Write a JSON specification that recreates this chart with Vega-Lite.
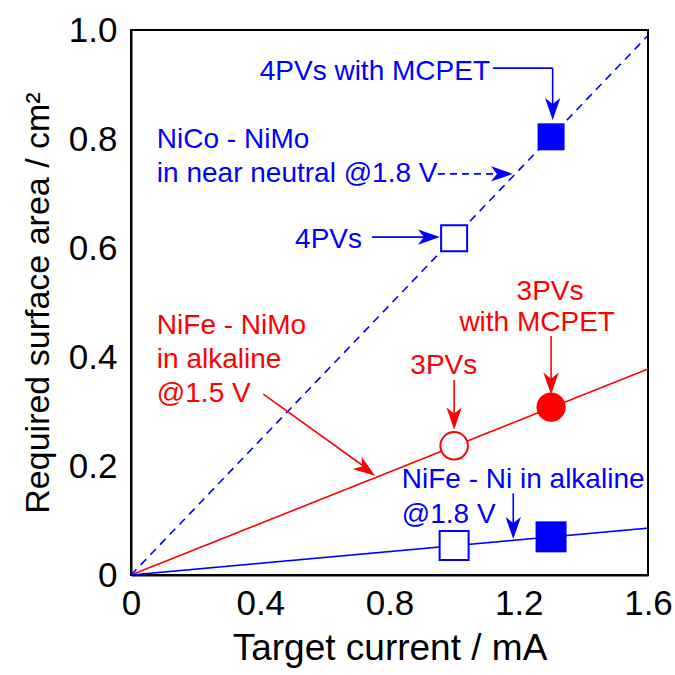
{
  "$schema": "https://vega.github.io/schema/vega-lite/v6.json",
  "width": 517,
  "height": 545,
  "autosize": "none",
  "padding": {"left": 131, "top": 30, "right": 27, "bottom": 100},
  "background": "white",
  "config": {
    "view": {"stroke": "black", "strokeWidth": 2},
    "font": "Liberation Sans",
    "axis": {
      "domainColor": "black", "domainWidth": 2,
      "labelColor": "black", "titleColor": "black",
      "grid": false, "ticks": false, "tickSize": 0,
      "labelFont": "Liberation Sans", "titleFont": "Liberation Sans",
      "labelFontSize": 35, "titleFontWeight": "normal"
    }
  },
  "resolve": {"scale": {"size": "independent"}},
  "datasets": {
    "lines": [
      {"series": "NiCo-NiMo", "x": 0, "y": 0}, {"series": "NiCo-NiMo", "x": 1.6, "y": 0.99},
      {"series": "NiFe-NiMo", "x": 0, "y": 0}, {"series": "NiFe-NiMo", "x": 1.6, "y": 0.378},
      {"series": "NiFe-Ni", "x": 0, "y": 0}, {"series": "NiFe-Ni", "x": 1.6, "y": 0.086}
    ],
    "points": [
      {"series": "NiCo-NiMo", "label": "4PVs", "x": 1.0, "y": 0.618, "filled": false},
      {"series": "NiCo-NiMo", "label": "4PVs with MCPET", "x": 1.3, "y": 0.804, "filled": true},
      {"series": "NiFe-NiMo", "label": "3PVs", "x": 1.0, "y": 0.237, "filled": false},
      {"series": "NiFe-NiMo", "label": "3PVs with MCPET", "x": 1.3, "y": 0.308, "filled": true},
      {"series": "NiFe-Ni", "label": "3PVs", "x": 1.0, "y": 0.054, "filled": false},
      {"series": "NiFe-Ni", "label": "3PVs with MCPET", "x": 1.3, "y": 0.070, "filled": true}
    ],
    "xTicks": [
      {"x": 0.1, "kind": "minor"}, {"x": 0.2, "kind": "minor"}, {"x": 0.3, "kind": "minor"},
      {"x": 0.4, "kind": "major"}, {"x": 0.5, "kind": "minor"}, {"x": 0.6, "kind": "minor"},
      {"x": 0.7, "kind": "minor"}, {"x": 0.8, "kind": "major"}, {"x": 0.9, "kind": "minor"},
      {"x": 1.0, "kind": "minor"}, {"x": 1.1, "kind": "minor"}, {"x": 1.2, "kind": "major"},
      {"x": 1.3, "kind": "minor"}, {"x": 1.4, "kind": "minor"}, {"x": 1.5, "kind": "minor"}
    ],
    "yTicks": [
      {"y": 0.1, "kind": "minor"}, {"y": 0.2, "kind": "major"}, {"y": 0.3, "kind": "minor"},
      {"y": 0.4, "kind": "major"}, {"y": 0.5, "kind": "minor"}, {"y": 0.6, "kind": "major"},
      {"y": 0.7, "kind": "minor"}, {"y": 0.8, "kind": "major"}, {"y": 0.9, "kind": "minor"}
    ],
    "arrows": [
      {"series": "NiCo-NiMo", "x": 1.12, "y": 0.93, "x2": 1.305, "y2": 0.93},
      {"series": "NiCo-NiMo", "x": 1.305, "y": 0.93, "x2": 1.305, "y2": 0.845},
      {"series": "NiCo-NiMo", "x": 0.746, "y": 0.62, "x2": 0.946, "y2": 0.62},
      {"series": "NiFe-NiMo", "x": 1.0, "y": 0.358, "x2": 1.0, "y2": 0.277},
      {"series": "NiFe-NiMo", "x": 1.3, "y": 0.4385, "x2": 1.3, "y2": 0.341},
      {"series": "NiFe-NiMo", "x": 0.4095, "y": 0.332, "x2": 0.745, "y2": 0.189},
      {"series": "NiFe-Ni", "x": 1.183, "y": 0.15, "x2": 1.183, "y2": 0.076}
    ],
    "dashedArrows": [
      {"series": "NiCo-NiMo", "x": 0.95, "y": 0.736, "x2": 1.17, "y2": 0.736}
    ],
    "headsDown": [
      {"series": "NiCo-NiMo", "x": 1.305, "y": 0.835},
      {"series": "NiFe-NiMo", "x": 1.0, "y": 0.267},
      {"series": "NiFe-NiMo", "x": 1.3, "y": 0.331},
      {"series": "NiFe-Ni", "x": 1.183, "y": 0.066}
    ],
    "headsRight": [
      {"series": "NiCo-NiMo", "x": 0.956, "y": 0.62},
      {"series": "NiCo-NiMo", "x": 1.182, "y": 0.736}
    ],
    "headsDiag": [
      {"series": "NiFe-NiMo", "x": 0.755, "y": 0.182}
    ],
    "labelsLeft": [
      {"series": "NiCo-NiMo", "text": "NiCo - NiMo", "x": 0.08, "y": 0.783},
      {"series": "NiCo-NiMo", "text": "in near neutral @1.8 V", "x": 0.08, "y": 0.721},
      {"series": "NiFe-NiMo", "text": "NiFe - NiMo", "x": 0.08, "y": 0.442},
      {"series": "NiFe-NiMo", "text": "in alkaline", "x": 0.08, "y": 0.38},
      {"series": "NiFe-NiMo", "text": "@1.5 V", "x": 0.08, "y": 0.318},
      {"series": "NiFe-Ni", "text": "NiFe - Ni in alkaline", "x": 0.838, "y": 0.159},
      {"series": "NiFe-Ni", "text": "@1.8 V", "x": 0.838, "y": 0.096}
    ],
    "labelsRight": [
      {"series": "NiCo-NiMo", "text": "4PVs with MCPET", "x": 1.111, "y": 0.908},
      {"series": "NiCo-NiMo", "text": "4PVs", "x": 0.715, "y": 0.6}
    ],
    "labelsCenter": [
      {"series": "NiFe-NiMo", "text": "3PVs", "x": 0.968, "y": 0.369},
      {"series": "NiFe-NiMo", "text": "3PVs", "x": 1.297, "y": 0.505},
      {"series": "NiFe-NiMo", "text": "with MCPET", "x": 1.257, "y": 0.448}
    ]
  },
  "encoding": {
    "x": {
      "field": "x", "type": "quantitative",
      "scale": {"domain": [0, 1.6], "nice": false, "zero": false},
      "axis": {
        "orient": "bottom",
        "title": "Target current / mA",
        "titleFontSize": 37,
        "values": [0, 0.4, 0.8, 1.2, 1.6],
        "labelExpr": "datum.value === 0 ? '0' : format(datum.value, '.1f')",
        "labelPadding": 11,
        "labelFlush": false,
        "labelOverlap": false,
        "titlePadding": 9
      }
    },
    "y": {
      "field": "y", "type": "quantitative",
      "scale": {"domain": [0, 1.0], "nice": false, "zero": false},
      "axis": {
        "orient": "left",
        "title": "Required surface area / cm²",
        "titleFontSize": 34,
        "values": [0, 0.2, 0.4, 0.6, 0.8, 1.0],
        "labelExpr": "datum.value === 0 ? '0' : format(datum.value, '.1f')",
        "labelPadding": 14,
        "labelFlush": false,
        "labelOverlap": false,
        "titlePadding": 13
      }
    },
    "color": {
      "field": "series", "type": "nominal",
      "scale": {"domain": ["NiCo-NiMo", "NiFe-NiMo", "NiFe-Ni"], "range": ["#0000ff", "#ff0000", "#0000ff"]},
      "legend": null
    }
  },
  "layer": [
    {
      "data": {"name": "xTicks"},
      "mark": {"type": "tick", "orient": "horizontal", "thickness": 2, "clip": true, "opacity": 1},
      "encoding": {
        "y": {"datum": 0, "type": "quantitative"},
        "color": {"value": "black"},
        "size": {
          "field": "kind", "type": "nominal",
          "scale": {"domain": ["major", "minor"], "range": [26, 14]},
          "legend": null
        }
      }
    },
    {
      "data": {"name": "yTicks"},
      "mark": {"type": "tick", "orient": "vertical", "thickness": 2, "clip": true, "opacity": 1},
      "encoding": {
        "x": {"datum": 0, "type": "quantitative"},
        "color": {"value": "black"},
        "size": {
          "field": "kind", "type": "nominal",
          "scale": {"domain": ["major", "minor"], "range": [26, 14]},
          "legend": null
        }
      }
    },
    {
      "data": {"name": "lines"},
      "mark": {"type": "line", "strokeWidth": 1.6, "clip": true},
      "encoding": {
        "detail": {"field": "series"},
        "strokeDash": {
          "field": "series", "type": "nominal",
          "scale": {"domain": ["NiCo-NiMo", "NiFe-NiMo", "NiFe-Ni"], "range": [[8, 6], [1, 0], [1, 0]]},
          "legend": null
        }
      }
    },
    {
      "data": {"name": "arrows"},
      "mark": {"type": "rule", "strokeWidth": 1.6},
      "encoding": {"x2": {"field": "x2"}, "y2": {"field": "y2"}}
    },
    {
      "data": {"name": "dashedArrows"},
      "mark": {"type": "rule", "strokeWidth": 1.6, "strokeDash": [7, 5]},
      "encoding": {"x2": {"field": "x2"}, "y2": {"field": "y2"}}
    },
    {
      "data": {"name": "headsDown"},
      "mark": {"type": "point", "filled": true, "opacity": 1, "size": 484, "shape": "M0,0 L-0.7,-2 L0,-1.45 L0.7,-2 Z", "angle": 0, "strokeWidth": 0},
      "encoding": {}
    },
    {
      "data": {"name": "headsRight"},
      "mark": {"type": "point", "filled": true, "opacity": 1, "size": 484, "shape": "M0,0 L-0.7,-2 L0,-1.45 L0.7,-2 Z", "angle": 270, "strokeWidth": 0},
      "encoding": {}
    },
    {
      "data": {"name": "headsDiag"},
      "mark": {"type": "point", "filled": true, "opacity": 1, "size": 484, "shape": "M0,0 L-0.7,-2 L0,-1.45 L0.7,-2 Z", "angle": 306, "strokeWidth": 0},
      "encoding": {}
    },
    {
      "data": {"name": "points"},
      "transform": [{"filter": "datum.filled"}],
      "mark": {"type": "point", "filled": true, "opacity": 1, "strokeWidth": 0},
      "encoding": {
        "shape": {
          "field": "series", "type": "nominal",
          "scale": {"domain": ["NiCo-NiMo", "NiFe-NiMo", "NiFe-Ni"], "range": ["square", "circle", "square"]},
          "legend": null
        },
        "size": {
          "field": "series", "type": "nominal",
          "scale": {"domain": ["NiCo-NiMo", "NiFe-NiMo", "NiFe-Ni"], "range": [729, 961, 729]},
          "legend": null
        }
      }
    },
    {
      "data": {"name": "points"},
      "transform": [{"filter": "!datum.filled"}],
      "mark": {"type": "point", "filled": false, "fill": "white", "fillOpacity": 1, "opacity": 1, "strokeWidth": 2},
      "encoding": {
        "stroke": {
          "field": "series", "type": "nominal",
          "scale": {"domain": ["NiCo-NiMo", "NiFe-NiMo", "NiFe-Ni"], "range": ["#0000ff", "#ff0000", "#0000ff"]},
          "legend": null
        },
        "shape": {
          "field": "series", "type": "nominal",
          "scale": {"domain": ["NiCo-NiMo", "NiFe-NiMo", "NiFe-Ni"], "range": ["square", "circle", "square"]},
          "legend": null
        },
        "size": {
          "field": "series", "type": "nominal",
          "scale": {"domain": ["NiCo-NiMo", "NiFe-NiMo", "NiFe-Ni"], "range": [676, 841, 676]},
          "legend": null
        }
      }
    },
    {
      "data": {"name": "labelsLeft"},
      "mark": {"type": "text", "align": "left", "baseline": "alphabetic", "fontSize": 28, "font": "Liberation Sans"},
      "encoding": {"text": {"field": "text"}}
    },
    {
      "data": {"name": "labelsRight"},
      "mark": {"type": "text", "align": "right", "baseline": "alphabetic", "fontSize": 28, "font": "Liberation Sans"},
      "encoding": {"text": {"field": "text"}}
    },
    {
      "data": {"name": "labelsCenter"},
      "mark": {"type": "text", "align": "center", "baseline": "alphabetic", "fontSize": 28, "font": "Liberation Sans"},
      "encoding": {"text": {"field": "text"}}
    }
  ]
}
